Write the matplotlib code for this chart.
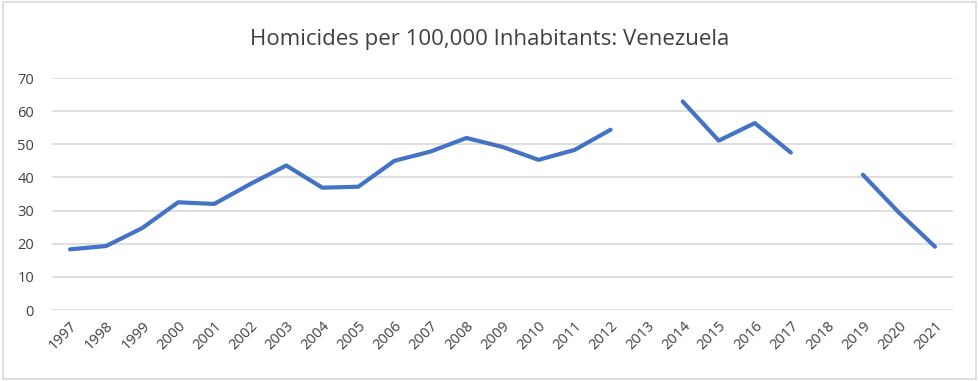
import matplotlib
matplotlib.use("Agg")
import matplotlib.pyplot as plt
import numpy as np

# data (NaN = no value for that year)
years = [str(y) for y in range(1997, 2022)]
rate = [18.3, 19.3, 24.7, 32.5, 32.0, 38.0, 43.6, 36.9, 37.2, 45.0,
        47.8, 51.9, 49.2, 45.3, 48.3, 54.4, np.nan, 62.9, 51.1, 56.4,
        47.5, np.nan, 40.8, 29.4, 19.1]
y_ticks = [0, 10, 20, 30, 40, 50, 60, 70]

plt.rcParams['font.family'] = ['Open Sans', 'DejaVu Sans']

fig = plt.figure(figsize=(9.79, 3.81), dpi=100)
ax = fig.add_axes([52 / 979, 1 - 310 / 381, 901 / 979, 232 / 381])

x = np.arange(len(years))
ax.plot(x, rate, color='#4472C4', lw=3, solid_capstyle='round',
        solid_joinstyle='round')

ax.set_xlim(-0.5, len(years) - 0.5)
ax.set_ylim(0, 70)
ax.set_yticks(y_ticks)
ax.set_xticks(x)
ax.set_xticklabels(years, rotation=45, ha='right', rotation_mode='anchor')
ax.tick_params(axis='both', length=0, colors='#404040', labelsize=10.5)
ax.tick_params(axis='x', pad=6)
ax.tick_params(axis='y', pad=13)
ax.grid(axis='y', color='#D9D9D9', lw=1.2)
ax.set_axisbelow(True)
for s in ax.spines.values():
    s.set_visible(False)

fig.text(0.5, 1 - 40 / 381, 'Homicides per 100,000 Inhabitants: Venezuela',
         ha='center', va='center', fontsize=16, color='#404040')

# light frame round the chart like the Excel chart area
fig.patches.append(plt.Rectangle((0.003, 0.005), 0.994, 0.99, transform=fig.transFigure,
                                 fill=False, ec='#D9D9D9', lw=1.2))

fig.savefig('out.png', dpi=100)
